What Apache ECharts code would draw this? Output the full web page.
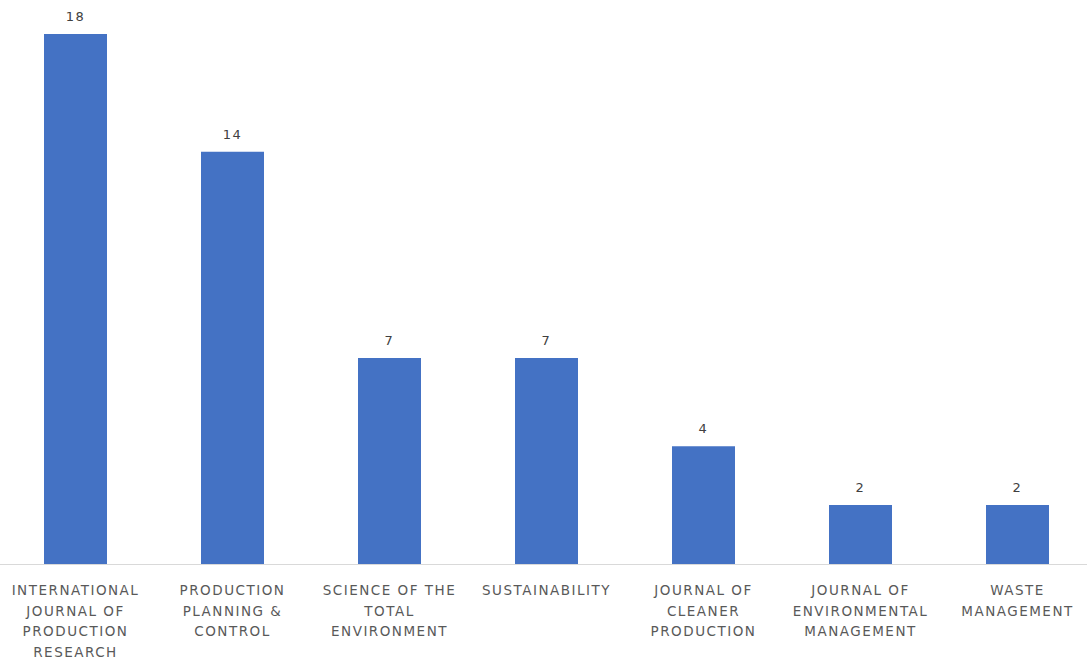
<!DOCTYPE html>
<html>
<head>
<meta charset="utf-8">
<script src="https://cdn.jsdelivr.net/npm/echarts@6/dist/echarts.min.js"></script>
<style>
  html, body { margin: 0; padding: 0; background: #fff; }
  #main { width: 1087px; height: 660px; }
  /* the source chart looks stretched sideways, so widen the lettering a bit */
  #main svg text { letter-spacing: 1.5px; }
</style>
</head>
<body>
<div id="main"></div>
<script>
const journals = [
  'INTERNATIONAL\nJOURNAL OF\nPRODUCTION\nRESEARCH',
  'PRODUCTION\nPLANNING &\nCONTROL',
  'SCIENCE OF THE\nTOTAL\nENVIRONMENT',
  'SUSTAINABILITY',
  'JOURNAL OF\nCLEANER\nPRODUCTION',
  'JOURNAL OF\nENVIRONMENTAL\nMANAGEMENT',
  'WASTE\nMANAGEMENT'
];
const counts = [18, 14, 7, 7, 4, 2, 2];

const chart = echarts.init(document.getElementById('main'), null, { renderer: 'svg' });

const option = {
  animation: false,
  grid: { left: -3, width: 1099, top: 34, bottom: 96, outerBoundsMode: 'none', containLabel: false },
  xAxis: {
    type: 'category',
    data: journals,
    axisLine: { lineStyle: { color: '#d9d9d9', width: 1 } },
    axisTick: { show: false },
    axisLabel: {
      interval: 0,
      margin: 16,
      color: '#595959',
      fontFamily: 'DejaVu Sans',
      fontSize: 13.5,
      lineHeight: 20.5
    }
  },
  yAxis: {
    type: 'value',
    min: 0,
    max: 18,
    show: false
  },
  series: [{
    type: 'bar',
    data: counts,
    barWidth: 63,
    itemStyle: { color: '#4472c4' },
    label: {
      show: true,
      position: 'top',
      distance: 11,
      color: '#404040',
      fontFamily: 'DejaVu Sans',
      fontSize: 13
    }
  }]
};

chart.setOption(option);
</script>
</body>
</html>
